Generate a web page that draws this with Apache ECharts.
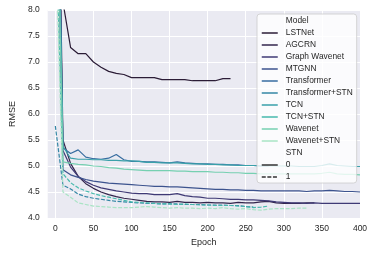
<!DOCTYPE html>
<html><head><meta charset="utf-8">
<script src="https://cdn.jsdelivr.net/npm/echarts@6/dist/echarts.min.js"></script>
<style>html,body{margin:0;padding:0;background:#fff}#c{width:374px;height:253px}</style>
</head><body><div id="c"></div>
<script>
const epochs = [0,10,20,30,40,50,60,70,80,90,100,110,120,130,140,150,160,170,180,190,200,210,220,230,240,250,260,270,280,290,300,310,320,330,340,350,360,370,380,390,400];
const xTicks = [0,50,100,150,200,250,300,350,400];
const models = ['LSTNet','AGCRN','Graph Wavenet','MTGNN','Transformer','Transformer+STN','TCN','TCN+STN','Wavenet','Wavenet+STN'];
const stnFlag = [0,0,0,0,0,1,0,1,0,1];
const colors = ['#2b1c36','#33264c','#3f3a75','#3c538e','#376da0','#3487a5','#3aa1aa','#47baad','#76d0b1','#a9e4c5'];

const LSTNet = [11.0,8.15,7.28,7.16,7.16,7.0,6.9,6.82,6.78,6.76,6.70,6.70,6.70,6.70,6.66,6.66,6.66,6.66,6.64,6.64,6.64,6.64,6.68,6.68];
const AGCRN = [15,5.5,5.05,4.8,4.66,4.57,4.5,4.45,4.41,4.38,4.36,4.34,4.32,4.31,4.31,4.30,4.32,4.30,4.30,4.29,4.30,4.29,4.29,4.28,4.30,4.29,4.29,4.31,4.32,4.29,4.28,4.28,4.28,4.29,4.29];
const GraphWavenet = [14,5.3,4.98,4.8,4.7,4.63,4.58,4.55,4.52,4.5,4.48,4.47,4.47,4.45,4.45,4.45,4.47,4.43,4.41,4.40,4.38,4.38,4.37,4.36,4.36,4.35,4.35,4.34,4.33,4.31,4.30,4.29,4.29,4.28,4.29,4.28,4.28,4.28,4.28,4.28,4.28];
const MTGNN = [12,4.93,4.83,4.78,4.74,4.71,4.69,4.67,4.66,4.65,4.64,4.63,4.62,4.61,4.61,4.60,4.60,4.59,4.58,4.57,4.56,4.55,4.55,4.54,4.54,4.53,4.53,4.52,4.52,4.52,4.52,4.52,4.52,4.51,4.52,4.52,4.53,4.52,4.51,4.51,4.50];
const Transformer = [14,5.35,5.24,5.31,5.17,5.14,5.13,5.15,5.22,5.12,5.09,5.09,5.08,5.08,5.07,5.06,5.08,5.06,5.05,5.04,5.04,5.03,5.03,5.02,5.02,5.01,5.01,5.00,5.00];
const TransformerSTN = [5.77,4.63,4.56,4.46,4.41,4.38,4.36,4.34,4.32,4.31,4.30,4.29,4.28,4.28,4.27,4.27,4.27,4.26,4.26,4.26,4.25,4.25,4.25,4.24,4.24,4.22,4.21];
const TCN = [13,5.38,5.15,5.13,5.13,5.12,5.12,5.11,5.11,5.10,5.10,5.09,5.07,5.07,5.06,5.06,5.06,5.05,5.04,5.04,5.03,5.03,5.02,5.02,5.01,5.01,5.01,5.00,5.00,5.00,5.00,5.00,4.99,4.99,4.99,5.01,5.04,5.01,5.00,4.99,4.99];
const TCNSTN = [10,4.85,4.68,4.58,4.52,4.47,4.43,4.40,4.37,4.34,4.31,4.30,4.29,4.28,4.27,4.27,4.26,4.27,4.26,4.25,4.25,4.24,4.24,4.24,4.23,4.22,4.20,4.21,4.23];
const Wavenet = [12,5.08,5.05,5.03,5.02,5.0,4.99,4.97,4.96,4.94,4.93,4.92,4.91,4.91,4.91,4.91,4.90,4.90,4.89,4.89,4.89,4.88,4.88,4.87,4.87,4.86,4.86,4.85,4.85,4.85,4.85,4.85,4.85,4.85,4.85,4.86,4.88,4.85,4.84,4.84,4.83];
const WavenetSTN = [9.5,4.5,4.4,4.29,4.26,4.23,4.22,4.21,4.2,4.2,4.2,4.21,4.22,4.21,4.2,4.19,4.2,4.19,4.19,4.18,4.19,4.18,4.2,4.18,4.17,4.18,4.16,4.15,4.17,4.18,4.18,4.18,4.19,4.19];
const values = [LSTNet,AGCRN,GraphWavenet,MTGNN,Transformer,TransformerSTN,TCN,TCNSTN,Wavenet,WavenetSTN];

const FONT = 'Liberation Sans';
const series = models.map((m,i)=>({
  name:m, type:'line', symbol:'none', clip:true,
  data: values[i].map((v,j)=>[epochs[j], v]),
  lineStyle:{color:colors[i], width:1.2, type: stnFlag[i] ? [4,1.6] : 'solid'},
  itemStyle:{color:colors[i]}
}));
series.push({name:'Model', type:'line', symbol:'none', data:[], lineStyle:{color:'transparent'}});
series.push({name:'STN', type:'line', symbol:'none', data:[], lineStyle:{color:'transparent'}});
series.push({name:'0', type:'line', symbol:'none', data:[], lineStyle:{color:'#333333', width:1.2, type:'solid'}, itemStyle:{color:'#333333'}});
series.push({name:'1', type:'line', symbol:'none', data:[], lineStyle:{color:'#333333', width:1.2, type:[4,1.6]}, itemStyle:{color:'#333333'}});

const legendData = [{name:'Model', icon:'none'}]
  .concat(models.map(m=>({name:m, lineStyle:{type:'solid', width:1.5}})))
  .concat([{name:'STN', icon:'none'}, {name:'0', lineStyle:{width:1.5}}, {name:'1', lineStyle:{width:1.5}}]);

const chart = echarts.init(document.getElementById('c'), null, {renderer:'canvas'});
chart.setOption({
  animation:false,
  grid:{left:39, right:14, top:10, bottom:35, show:true, backgroundColor:'#EAEAF2', borderWidth:0},
  xAxis:{type:'value', min:-10, max:400,
    name:'Epoch', nameLocation:'middle', nameGap:17, nameTextStyle:{fontSize:9, fontFamily:FONT, color:'#262626'},
    axisLine:{show:false},
    axisTick:{show:false, customValues:xTicks},
    axisLabel:{customValues:xTicks, fontSize:8.5, fontFamily:FONT, color:'#262626', margin:6},
    splitLine:{show:true, lineStyle:{color:'#ffffff', width:1}}
  },
  yAxis:{type:'value', min:4, max:8, interval:0.5,
    name:'RMSE', nameLocation:'middle', nameGap:25, nameTextStyle:{fontSize:9, fontFamily:FONT, color:'#262626'},
    axisLine:{show:false}, axisTick:{show:false},
    axisLabel:{fontSize:8.5, fontFamily:FONT, color:'#262626', margin:8, formatter:v=>v.toFixed(1)},
    splitLine:{show:true, lineStyle:{color:'#ffffff', width:1}}
  },
  legend:{orient:'vertical', left:257, top:14, padding:[2,4,1,4], itemWidth:16, itemHeight:8, itemGap:2,
    backgroundColor:'rgba(255,255,255,0.8)', borderColor:'#cccccc', borderWidth:0.8, borderRadius:3,
    selectedMode:false,
    itemStyle:{opacity:0},
    textStyle:{fontSize:8.4, fontFamily:FONT, color:'#262626', lineHeight:10, padding:[0,0,0,3]},
    data:legendData},
  series:series
});
</script></body></html>
